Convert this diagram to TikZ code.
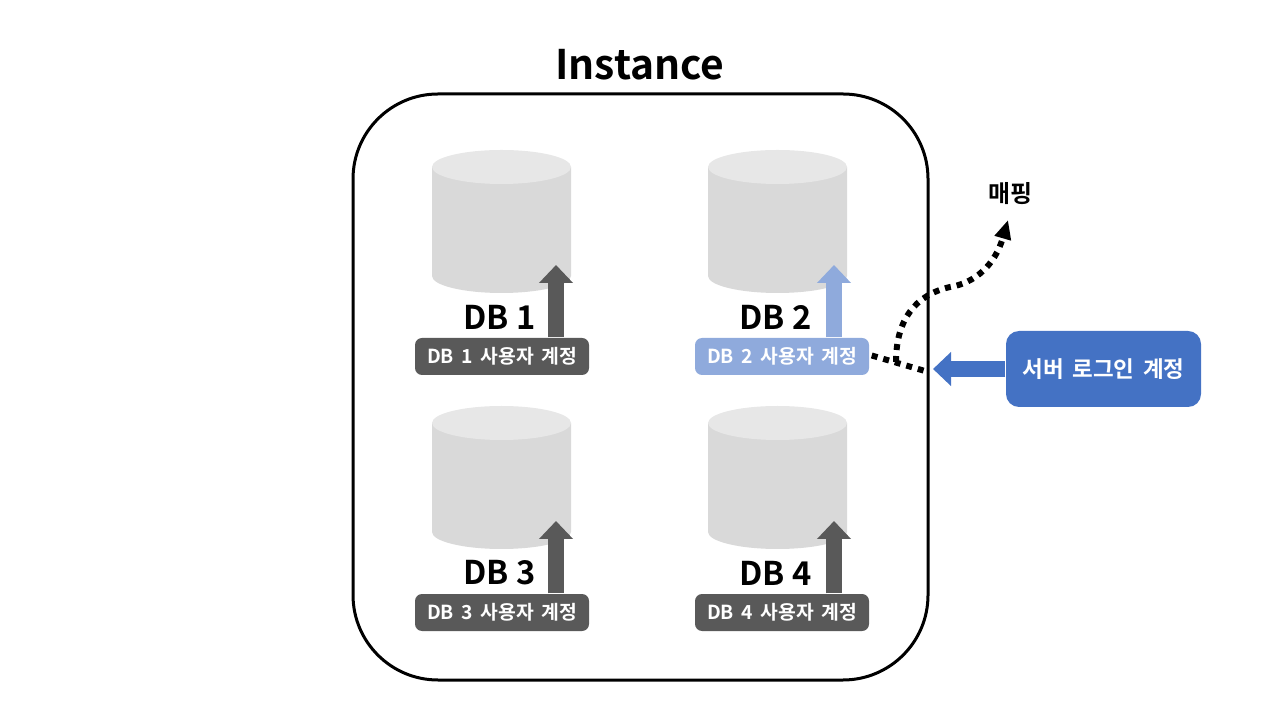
\documentclass[tikz,border=0pt]{standalone}
\usepackage{fontspec}
\setmainfont{Noto Sans CJK KR}[BoldFont={Noto Sans CJK KR Bold}]
\newfontfamily\widefont{Noto Sans CJK KR Bold}[WordSpace=1.7]
\usetikzlibrary{arrows.meta,positioning,calc}
\definecolor{acctgray}{HTML}{595959}
\definecolor{acctblue}{HTML}{8FAADC}
\definecolor{serverblue}{HTML}{4472C4}
\definecolor{dbbody}{HTML}{D9D9D9}
\definecolor{dbtop}{HTML}{E7E7E7}
\tikzset{
	dbname/.style={font=\fontsize{9.3}{11}\selectfont\bfseries},
	acctbox/.style={rounded corners=.07cm,minimum width=1.74cm,minimum height=.37cm,inner sep=0pt,text=white,font=\widefont\fontsize{5.5}{6}\selectfont},
	blockarrow/.style={line width=.16cm,-{Triangle[length=.18cm,width=.33cm]}},
	mapline/.style={line width=.06cm,dash pattern=on .06cm off .06cm}
}
\begin{document}
\begin{tikzpicture}
	\useasboundingbox (0,0) rectangle (12.8,-7.2);
	\node[font=\fontsize{11.6}{15}\selectfont\bfseries] (title) at (6.4,-.65) {Instance};
	\draw[line width=.03cm,rounded corners=.85cm] (3.53,-.94) rectangle (9.28,-6.8);
	\foreach \x/\y/\a/\t/\n/\c in {5.015/-1.67/5.02/5.56/1/acctgray,7.775/-1.67/7.82/8.34/2/acctblue,5.015/-4.23/5.02/5.56/3/acctgray,7.775/-4.23/7.82/8.34/4/acctgray}{
		\fill[dbbody] (\x-.695,\y) -- ++(0,-1.09) arc (180:360:.695 and .17) -- ++(0,1.09) -- cycle;
		\fill[dbtop] (\x,\y) ellipse (.695 and .17);
		\node[dbname] (name\n) at (\x-.02,\y-1.5) {DB \n};
		\coordinate (tip\n) at (\t,\y-.98);
		\node[acctbox,fill=\c] (acct\n) at (\a,\y-1.895) {DB \n\ 사용자 계정};
		\draw[blockarrow,\c] (acct\n.north -| tip\n) -- (tip\n);
	}
	\node[rounded corners=.13cm,fill=serverblue,minimum width=1.95cm,minimum height=.76cm,inner sep=0pt,text=white,font=\widefont\fontsize{6.4}{7}\selectfont] (server) at (11.035,-3.69) {서버 로그인 계정};
	\coordinate (servertip) at (9.33,-3.69);
	\draw[blockarrow,serverblue] (server.west) -- (servertip);
	\node[font=\fontsize{6.8}{7}\selectfont\bfseries] (map) at (10.1,-1.94) {매핑};
	\coordinate (linkend) at (9.25,-3.71);
	\coordinate (linkfork) at (8.96,-3.62);
	\coordinate (maptip) at (10.08,-2.2);
	\draw[mapline] (acct2.east) ++(.02,.01) -- (linkend);
	\draw[mapline,-{Triangle[length=.19cm,width=.16cm]}] (linkfork) .. controls (8.96,-3.2) and (9.15,-2.95) .. (9.5,-2.87) .. controls (9.75,-2.83) and (9.95,-2.65) .. (maptip);
\end{tikzpicture}
\end{document}
